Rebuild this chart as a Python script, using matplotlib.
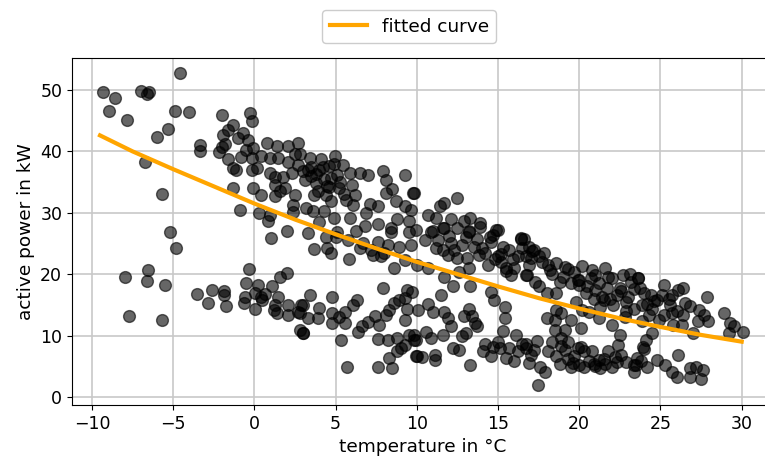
import numpy as np
import matplotlib.pyplot as plt

# measured points: outdoor temperature (°C) vs. active power (kW)
# cold days, x < -3
temp_cold = [-9.3, -8.55, -6.98, -6.47, -6.6, -8.97, -4.87, -4.05, -7.83, -5.3, -5.98, -6.7, -5.7,
             -4.6, -5.2, -4.8, -7.95, -6.55, -6.6, -5.5, -7.7, -5.7]
power_cold = [49.7, 48.7, 49.9, 49.6, 49.4, 46.5, 46.5, 46.4, 45.1, 43.6, 42.3, 38.3, 33.1,
              52.8, 26.9, 24.3, 19.6, 20.7, 18.9, 18.3, 13.2, 12.6]

# upper branch, -3 .. 10 °C
temp_up1 = [-2.0, -0.28, -0.17, -1.3, -1.6, -1.9, -0.7, -1.0, -0.4, -3.35, -3.35, -1.8, -2.0, -2.2,
            -0.5, -0.07, 0.75, 1.37, 2.08, 2.7, -1.6, -1.3, -1.1, -0.8, -0.17, 0.44, 0.95, 1.46,
            2.5, -0.17, 0.14, 0.95, 1.26, 1.77, 2.3, 2.7, 1.26, 1.88, -1.3, -0.07, 0.44, 1.26, 2.5,
            2.4, 2.4, 0.95, 0.85, 1.0, 1.98, 2.8, 3.4, 4.1, 4.97, 5.45, 4.0, 4.6, 3.3, 3.1, 3.8,
            4.5, 4.7, 5.1, 5.9, 6.5, 7.0, 7.9, 8.1, 9.25, 3.7, 4.4, 4.7, 5.65, 6.2, 6.1, 7.1, 7.6,
            8.1, 8.5, 8.7, 9.25, 9.75, 9.65, 3.6, 4.3, 4.9, 5.9, 6.8, 7.6, 8.4, 8.8, 9.55, 6.25,
            5.1, 3.3, 4.4, 4.5, 3.65, 4.7, 5.8, 5.75, 6.5, 7.3, 7.6, 7.8, 8.2, 8.6, 8.4, 8.9,
            9.65, 9.25, 9.55, 3.8, 4.2, 3.5, 4.9, 5.3, 6.0, 6.9, 3.9, 4.3, 5.2, 3.2, 2.1, 3.0,
            4.0, 5.0, 6.7, 7.2, 8.0, -0.9, 0.3, 1.6, 3.5, 4.6, 5.5]
power_up1 = [46.0, 46.3, 44.9, 44.3, 43.4, 42.7, 43.0, 42.2, 41.9, 41.0, 40.0, 41.2, 40.7, 39.9,
             40.3, 40.6, 41.4, 40.8, 40.8, 41.4, 38.7, 37.3, 37.0, 39.0, 38.9, 39.2, 38.9, 38.9,
             39.5, 37.0, 37.3, 36.5, 35.9, 35.9, 36.5, 37.8, 34.6, 34.0, 34.0, 34.0, 32.9, 32.7,
             32.9, 31.3, 30.2, 29.7, 28.6, 25.9, 27.1, 39.5, 38.9, 38.7, 39.2, 37.8, 37.0, 37.6,
             37.0, 35.4, 34.9, 34.3, 35.7, 36.2, 36.5, 36.5, 36.2, 36.8, 35.4, 36.2, 32.9, 32.9,
             31.9, 32.1, 32.9, 31.3, 31.5, 31.1, 33.2, 33.8, 31.9, 31.1, 33.2, 30.5, 30.3, 30.3,
             29.2, 29.2, 27.8, 28.2, 27.5, 28.9, 28.6, 27.1, 26.9, 26.7, 26.1, 24.2, 24.1, 23.4,
             22.4, 25.6, 24.2, 23.1, 25.3, 22.9, 24.8, 21.0, 26.9, 24.5, 24.8, 22.3, 26.9, 36.3,
             37.5, 36.0, 38.0, 35.0, 34.6, 30.0, 33.5, 35.5, 34.0, 30.8, 38.3, 36.8, 28.5, 26.0,
             25.0, 24.0, 23.5, 30.5, 30.0, 33.5, 37.5, 34.2, 33.0]

# lower branch, -4 .. 10 °C
temp_lo1 = [-3.56, -2.63, -2.88, -1.86, -1.86, -1.75, -0.52, -0.58, -0.65, 0.23, 0.03, 0.07, 0.65,
            1.06, 0.44, 1.57, 1.98, 1.46, 1.26, 1.37, 2.08, 2.08, 2.7, 2.9, 2.8, 3.0, 3.4, 3.0,
            4.0, 3.3, 3.9, 2.8, 3.0, 4.8, 4.8, 4.8, 5.55, 5.55, 5.35, 6.1, 6.3, 6.4, 6.6, 7.0,
            7.4, 7.7, 7.9, 8.1, 8.3, 8.6, 8.9, 9.3, 9.4, 9.4, 9.3, 8.2, 8.8, 9.55, 9.25, 8.8,
            8.3, 7.6, 8.5, 5.7, 9.95, 9.85, 5.2, 7.6, 9.0, 1.2, 0.5, -0.3]
power_lo1 = [16.8, 17.4, 15.3, 17.2, 16.6, 14.8, 18.6, 16.3, 15.3, 18.2, 16.9, 14.4, 16.7,
             18.1, 16.2, 19.6, 20.2, 16.3, 15.0, 13.7, 15.0, 13.4, 13.8, 15.0, 10.9, 10.4, 16.6,
             15.0, 14.5, 12.8, 12.8, 13.6, 10.4, 16.3, 13.6, 12.0, 13.9, 12.0, 9.3, 15.0, 15.8,
             10.6, 11.5, 12.2, 13.1, 11.7, 17.8, 13.4, 14.2, 15.3, 15.8, 16.1, 17.4, 14.4, 12.5,
             9.3, 9.6, 10.1, 8.5, 7.4, 6.3, 4.9, 4.7, 4.8, 6.6, 9.3, 13.0, 9.5, 8.0, 14.2, 15.8,
             20.8]

# upper branch, 10 .. 17 °C
temp_up2 = [9.8, 11.7, 11.4, 12.5, 10.7, 11.2, 12.1, 12.9, 13.3, 13.9, 11.7, 12.5, 11.0, 9.95,
            13.2, 14.97, 14.7, 16.4, 10.9, 11.6, 13.2, 13.9, 14.9, 11.3, 12.1, 12.8, 13.7, 14.0,
            14.55, 15.3, 15.7, 16.4, 11.2, 11.6, 11.9, 12.5, 13.1, 13.8, 14.4, 15.2, 15.5, 15.8,
            10.0, 10.7, 12.6, 11.7, 13.2, 16.7, 16.7, 16.5, 15.0, 15.9, 14.2, 12.3, 10.5, 16.0,
            15.5, 14.8, 13.5, 14.5, 15.2, 16.2, 13.0, 12.0]
power_up2 = [33.2, 31.6, 31.1, 32.4, 29.7, 29.2, 28.9, 28.6, 29.2, 28.3, 27.5, 27.5, 27.0, 27.2,
             27.0, 27.2, 26.4, 25.9, 26.9, 27.5, 26.9, 27.7, 27.2, 25.6, 25.0, 24.8, 25.8, 24.2,
             25.3, 24.5, 23.9, 25.8, 24.2, 23.9, 23.1, 22.6, 22.6, 23.1, 21.5, 22.0, 21.0, 19.9,
             21.5, 21.0, 20.4, 19.6, 21.0, 22.9, 19.9, 24.2, 23.0, 22.5, 23.5, 24.0, 25.5, 21.0,
             20.5, 22.5, 24.5, 26.0, 23.2, 23.0, 26.0, 26.2]

# lower branch, 10 .. 17 °C
temp_lo2 = [12.25, 13.3, 14.55, 14.75, 15.4, 15.4, 11.5, 9.7, 10.7, 10.1, 11.0, 11.7, 11.9, 12.1,
            12.9, 13.2, 13.4, 13.6, 13.7, 13.0, 12.8, 11.6, 10.55, 9.8, 9.95, 10.9, 12.2, 12.6,
            10.0, 10.35, 11.1, 11.1, 13.3, 14.1, 14.7, 14.55, 15.1, 15.5, 15.7, 16.2, 16.7, 16.5,
            16.1, 15.0, 14.2, 16.0, 15.3]
power_lo2 = [18.0, 18.0, 17.1, 15.8, 14.7, 12.8, 16.6, 17.1, 15.1, 14.2, 13.9, 13.9, 12.8, 11.5,
             13.1, 14.4, 13.1, 12.0, 11.5, 10.4, 9.9, 10.1, 10.6, 10.1, 9.3, 9.6, 7.9, 7.7, 6.6,
             6.5, 6.9, 6.0, 5.2, 7.5, 8.2, 6.6, 7.9, 6.3, 7.9, 7.4, 7.9, 8.7, 10.1, 9.0, 8.6, 5.8,
             10.8]

# upper branch, 17 .. 30 °C
temp_up3 = [16.6, 16.9, 17.0, 17.5, 17.7, 18.1, 18.6, 19.15, 19.7, 20.2, 20.8, 21.6, 22.0, 22.7,
            23.2, 23.6, 16.9, 16.8, 17.3, 17.5, 18.0, 18.6, 18.8, 19.5, 20.0, 20.5, 21.0, 21.2,
            21.7, 22.3, 22.1, 22.85, 23.35, 23.85, 23.85, 21.3, 21.2, 20.6, 20.2, 22.0, 22.5,
            22.4, 18.6, 18.9, 18.0, 18.5, 19.5, 18.5, 19.15, 20.1, 18.9, 19.3, 23.6, 23.75, 24.4,
            25.2, 25.1, 25.7, 26.1, 26.4, 26.5, 25.6, 24.5, 24.3, 25.2, 25.7, 26.4, 25.8, 26.3,
            24.5, 23.9, 24.1, 27.85, 27.4, 27.7, 27.9, 27.3, 28.9, 29.3, 29.5, 29.2, 30.1, 27.0,
            17.8, 18.3, 19.0, 19.9, 20.4, 21.0, 21.9, 22.5, 23.0, 24.0, 24.8, 17.2, 19.8, 21.5,
            22.8, 20.9, 24.9, 26.0, 23.1, 17.1, 18.2, 19.3, 20.7, 21.8, 22.6, 23.4, 24.6, 25.5,
            21.4, 22.9, 20.0, 24.2, 26.8]
power_up3 = [25.8, 24.5, 22.6, 22.9, 22.0, 21.5, 21.8, 21.2, 20.4, 21.4, 20.7, 21.0, 19.3, 19.9,
             18.8, 19.3, 21.5, 19.9, 18.8, 18.0, 16.9, 16.9, 18.8, 18.5, 18.2, 18.0, 17.4, 18.5,
             17.7, 16.6, 15.0, 15.5, 14.4, 15.0, 12.3, 14.7, 12.8, 13.9, 14.2, 11.7, 10.1, 8.5,
             14.2, 13.6, 12.8, 12.5, 12.5, 10.9, 10.9, 11.2, 9.6, 9.0, 19.3, 17.7, 16.6, 18.2,
             16.6, 16.6, 17.4, 17.7, 15.3, 15.0, 14.4, 13.4, 13.4, 13.6, 13.4, 11.7, 11.7, 10.4,
             8.2, 9.3, 16.3, 14.2, 13.4, 12.3, 12.3, 13.6, 12.0, 11.5, 10.4, 10.6, 10.4, 23.5,
             20.0, 19.5, 19.0, 17.0, 19.8, 16.0, 17.8, 16.2, 17.0, 15.8, 24.0, 15.5, 15.8, 13.0,
             16.0, 12.5, 14.0, 20.0, 23.8, 20.6, 20.9, 19.4, 19.6, 17.2, 17.5, 15.6, 16.0, 16.2,
             14.0, 19.0, 15.2, 14.8]

# lower branch, 17 .. 28 °C
temp_lo3 = [16.7, 17.4, 17.2, 18.1, 18.6, 19.15, 19.7, 20.0, 20.3, 20.8, 21.2, 21.8, 21.3, 22.3,
            22.85, 23.35, 23.55, 23.35, 16.9, 17.6, 17.9, 17.45, 19.5, 20.3, 26.1, 25.3, 25.7,
            26.0, 26.8, 27.2, 27.6, 26.8, 27.5, 24.2, 23.5, 18.9, 19.9, 20.6, 21.5, 22.0, 22.6,
            24.8, 18.3, 19.3, 20.1, 21.0, 24.0, 18.8, 19.6, 20.9, 22.2, 23.8, 17.0, 21.6]
power_lo3 = [8.7, 9.1, 7.7, 7.4, 6.6, 7.7, 6.6, 5.2, 7.4, 7.4, 6.0, 7.4, 4.7, 5.7, 5.7, 5.2, 6.3,
             4.1, 5.5, 4.9, 4.1, 2.0, 4.9, 4.9, 6.9, 5.2, 4.1, 3.3, 4.7, 4.9, 4.4, 3.3, 3.0, 4.9,
             5.2, 8.3, 8.0, 5.8, 6.2, 4.9, 6.8, 6.0, 9.0, 6.2, 8.2, 5.0, 7.8, 5.4, 5.6, 5.3, 6.5,
             5.8, 6.9, 5.4]

curve_temp = [-9.5, -7.5, -5.0, -2.5, 0.0, 2.5, 5.0, 7.5, 10.0, 12.5, 15.0, 17.5, 20.0, 22.5,
              25.0, 27.5, 30.0]
curve_power = [42.6, 40.0, 37.1, 34.3, 31.5, 28.9, 26.5, 24.2, 22.0, 20.0, 18.0, 16.1, 14.4,
               12.8, 11.4, 10.1, 9.0]

temperature = np.concatenate([temp_cold, temp_up1, temp_lo1, temp_up2, temp_lo2, temp_up3, temp_lo3])
power = np.concatenate([power_cold, power_up1, power_lo1, power_up2, power_lo2, power_up3, power_lo3])

plt.rcParams['font.family'] = 'DejaVu Sans'
fig = plt.figure(figsize=(7.65, 4.57), dpi=100)
ax = fig.add_axes([0.094, 0.114, 0.918, 0.759])

ax.scatter(temperature, power, s=72, color='black', alpha=0.6, zorder=2)
ax.plot(curve_temp, curve_power, color='orange', lw=3, label='fitted curve', zorder=3)

ax.set_xlim(-11.23, 32.0)
ax.set_ylim(-1.3, 55.2)
ax.set_xticks([-10, -5, 0, 5, 10, 15, 20, 25, 30])
ax.set_yticks([0, 10, 20, 30, 40, 50])
ax.grid(True, color='#c8c8c8', lw=1.2, zorder=0)
ax.set_axisbelow(True)
ax.tick_params(labelsize=12.5)
ax.set_xlabel('temperature in °C', fontsize=13.3)
ax.set_ylabel('active power in kW', fontsize=13.3)

fig.legend(loc='upper center', bbox_to_anchor=(0.535, 0.998), fontsize=13.3, framealpha=1)

fig.savefig('out.png', dpi=100)
